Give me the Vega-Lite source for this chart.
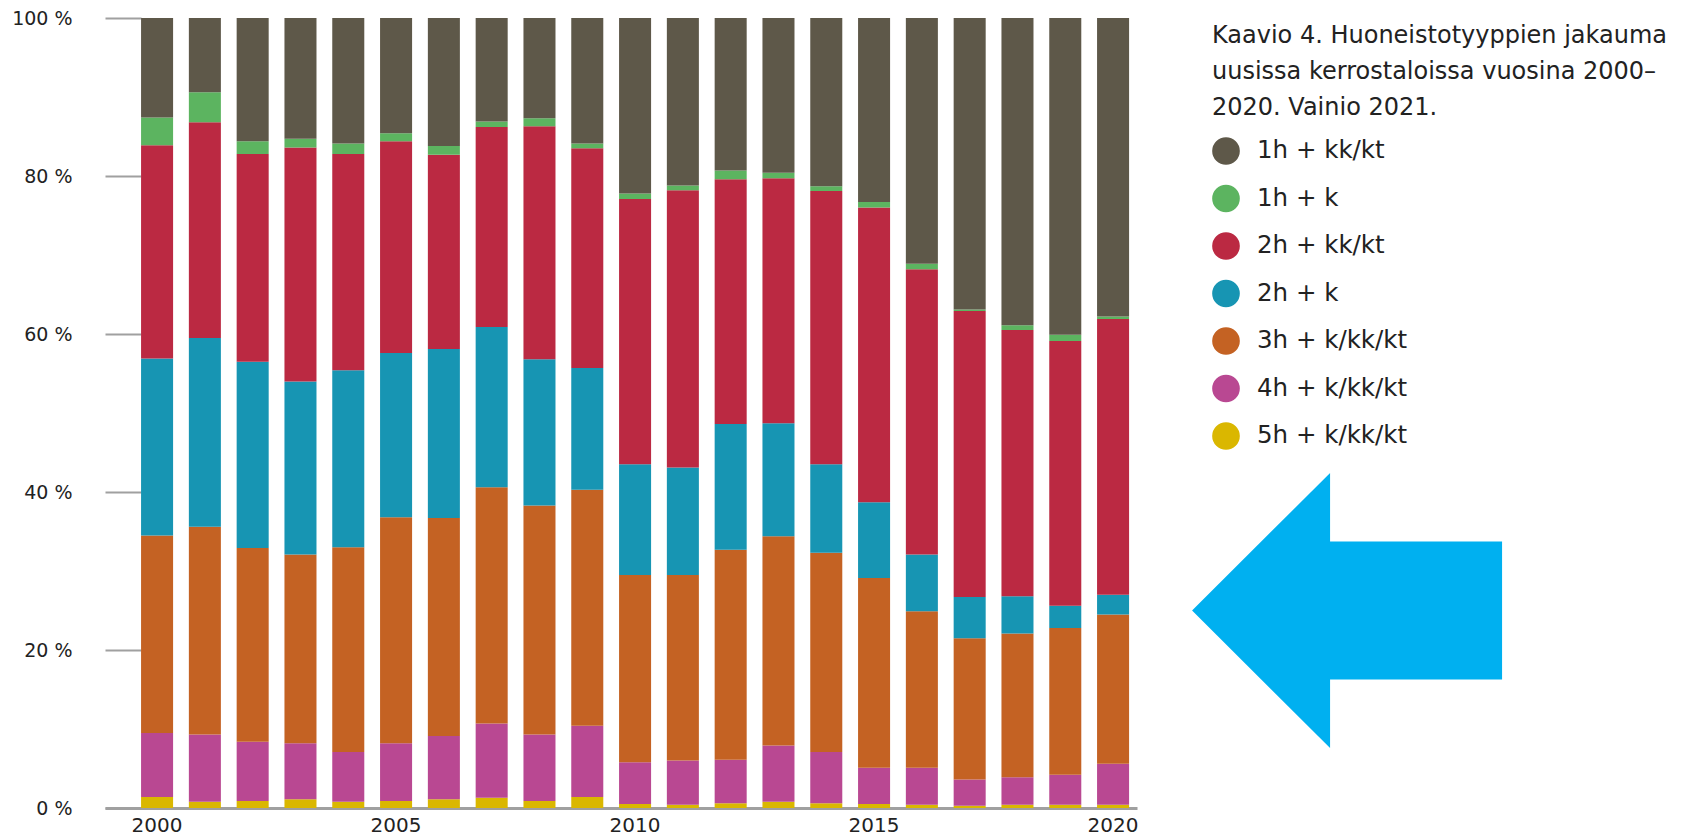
{
  "$schema": "https://vega.github.io/schema/vega-lite/v6.json",
  "autosize": {"type": "none"},
  "width": 1032,
  "height": 790,
  "padding": {"left": 105, "top": 18, "right": 561, "bottom": 28},
  "background": "white",
  "config": {"view": {"stroke": null}, "font": "DejaVu Sans"},
  "datasets": {
    "types": [
      {"type": "5h + k/kk/kt", "rank": 1},
      {"type": "4h + k/kk/kt", "rank": 2},
      {"type": "3h + k/kk/kt", "rank": 3},
      {"type": "2h + k", "rank": 4},
      {"type": "2h + kk/kt", "rank": 5},
      {"type": "1h + k", "rank": 6},
      {"type": "1h + kk/kt", "rank": 7}
    ],
    "arrow": [{"year": 2020, "share": 25}],
    "shares": [
      {"year": 2000, "type": "5h + k/kk/kt", "share": 1.4},
      {"year": 2000, "type": "4h + k/kk/kt", "share": 8.1},
      {"year": 2000, "type": "3h + k/kk/kt", "share": 25.0},
      {"year": 2000, "type": "2h + k", "share": 22.4},
      {"year": 2000, "type": "2h + kk/kt", "share": 27.0},
      {"year": 2000, "type": "1h + k", "share": 3.5},
      {"year": 2000, "type": "1h + kk/kt", "share": 12.6},
      {"year": 2001, "type": "5h + k/kk/kt", "share": 0.8},
      {"year": 2001, "type": "4h + k/kk/kt", "share": 8.5},
      {"year": 2001, "type": "3h + k/kk/kt", "share": 26.3},
      {"year": 2001, "type": "2h + k", "share": 23.9},
      {"year": 2001, "type": "2h + kk/kt", "share": 27.3},
      {"year": 2001, "type": "1h + k", "share": 3.8},
      {"year": 2001, "type": "1h + kk/kt", "share": 9.4},
      {"year": 2002, "type": "5h + k/kk/kt", "share": 0.9},
      {"year": 2002, "type": "4h + k/kk/kt", "share": 7.5},
      {"year": 2002, "type": "3h + k/kk/kt", "share": 24.5},
      {"year": 2002, "type": "2h + k", "share": 23.6},
      {"year": 2002, "type": "2h + kk/kt", "share": 26.3},
      {"year": 2002, "type": "1h + k", "share": 1.6},
      {"year": 2002, "type": "1h + kk/kt", "share": 15.6},
      {"year": 2003, "type": "5h + k/kk/kt", "share": 1.1},
      {"year": 2003, "type": "4h + k/kk/kt", "share": 7.1},
      {"year": 2003, "type": "3h + k/kk/kt", "share": 23.9},
      {"year": 2003, "type": "2h + k", "share": 21.9},
      {"year": 2003, "type": "2h + kk/kt", "share": 29.6},
      {"year": 2003, "type": "1h + k", "share": 1.1},
      {"year": 2003, "type": "1h + kk/kt", "share": 15.3},
      {"year": 2004, "type": "5h + k/kk/kt", "share": 0.8},
      {"year": 2004, "type": "4h + k/kk/kt", "share": 6.3},
      {"year": 2004, "type": "3h + k/kk/kt", "share": 25.9},
      {"year": 2004, "type": "2h + k", "share": 22.4},
      {"year": 2004, "type": "2h + kk/kt", "share": 27.4},
      {"year": 2004, "type": "1h + k", "share": 1.3},
      {"year": 2004, "type": "1h + kk/kt", "share": 15.9},
      {"year": 2005, "type": "5h + k/kk/kt", "share": 0.9},
      {"year": 2005, "type": "4h + k/kk/kt", "share": 7.3},
      {"year": 2005, "type": "3h + k/kk/kt", "share": 28.6},
      {"year": 2005, "type": "2h + k", "share": 20.8},
      {"year": 2005, "type": "2h + kk/kt", "share": 26.8},
      {"year": 2005, "type": "1h + k", "share": 1.0},
      {"year": 2005, "type": "1h + kk/kt", "share": 14.6},
      {"year": 2006, "type": "5h + k/kk/kt", "share": 1.1},
      {"year": 2006, "type": "4h + k/kk/kt", "share": 8.0},
      {"year": 2006, "type": "3h + k/kk/kt", "share": 27.6},
      {"year": 2006, "type": "2h + k", "share": 21.4},
      {"year": 2006, "type": "2h + kk/kt", "share": 24.6},
      {"year": 2006, "type": "1h + k", "share": 1.1},
      {"year": 2006, "type": "1h + kk/kt", "share": 16.2},
      {"year": 2007, "type": "5h + k/kk/kt", "share": 1.3},
      {"year": 2007, "type": "4h + k/kk/kt", "share": 9.4},
      {"year": 2007, "type": "3h + k/kk/kt", "share": 29.9},
      {"year": 2007, "type": "2h + k", "share": 20.3},
      {"year": 2007, "type": "2h + kk/kt", "share": 25.3},
      {"year": 2007, "type": "1h + k", "share": 0.7},
      {"year": 2007, "type": "1h + kk/kt", "share": 13.1},
      {"year": 2008, "type": "5h + k/kk/kt", "share": 0.9},
      {"year": 2008, "type": "4h + k/kk/kt", "share": 8.4},
      {"year": 2008, "type": "3h + k/kk/kt", "share": 29.0},
      {"year": 2008, "type": "2h + k", "share": 18.5},
      {"year": 2008, "type": "2h + kk/kt", "share": 29.5},
      {"year": 2008, "type": "1h + k", "share": 1.0},
      {"year": 2008, "type": "1h + kk/kt", "share": 12.7},
      {"year": 2009, "type": "5h + k/kk/kt", "share": 1.4},
      {"year": 2009, "type": "4h + k/kk/kt", "share": 9.0},
      {"year": 2009, "type": "3h + k/kk/kt", "share": 29.9},
      {"year": 2009, "type": "2h + k", "share": 15.4},
      {"year": 2009, "type": "2h + kk/kt", "share": 27.8},
      {"year": 2009, "type": "1h + k", "share": 0.6},
      {"year": 2009, "type": "1h + kk/kt", "share": 15.9},
      {"year": 2010, "type": "5h + k/kk/kt", "share": 0.5},
      {"year": 2010, "type": "4h + k/kk/kt", "share": 5.3},
      {"year": 2010, "type": "3h + k/kk/kt", "share": 23.7},
      {"year": 2010, "type": "2h + k", "share": 14.0},
      {"year": 2010, "type": "2h + kk/kt", "share": 33.6},
      {"year": 2010, "type": "1h + k", "share": 0.7},
      {"year": 2010, "type": "1h + kk/kt", "share": 22.2},
      {"year": 2011, "type": "5h + k/kk/kt", "share": 0.4},
      {"year": 2011, "type": "4h + k/kk/kt", "share": 5.6},
      {"year": 2011, "type": "3h + k/kk/kt", "share": 23.5},
      {"year": 2011, "type": "2h + k", "share": 13.6},
      {"year": 2011, "type": "2h + kk/kt", "share": 35.1},
      {"year": 2011, "type": "1h + k", "share": 0.6},
      {"year": 2011, "type": "1h + kk/kt", "share": 21.2},
      {"year": 2012, "type": "5h + k/kk/kt", "share": 0.6},
      {"year": 2012, "type": "4h + k/kk/kt", "share": 5.5},
      {"year": 2012, "type": "3h + k/kk/kt", "share": 26.6},
      {"year": 2012, "type": "2h + k", "share": 15.9},
      {"year": 2012, "type": "2h + kk/kt", "share": 31.0},
      {"year": 2012, "type": "1h + k", "share": 1.1},
      {"year": 2012, "type": "1h + kk/kt", "share": 19.3},
      {"year": 2013, "type": "5h + k/kk/kt", "share": 0.8},
      {"year": 2013, "type": "4h + k/kk/kt", "share": 7.1},
      {"year": 2013, "type": "3h + k/kk/kt", "share": 26.5},
      {"year": 2013, "type": "2h + k", "share": 14.3},
      {"year": 2013, "type": "2h + kk/kt", "share": 31.0},
      {"year": 2013, "type": "1h + k", "share": 0.7},
      {"year": 2013, "type": "1h + kk/kt", "share": 19.6},
      {"year": 2014, "type": "5h + k/kk/kt", "share": 0.6},
      {"year": 2014, "type": "4h + k/kk/kt", "share": 6.5},
      {"year": 2014, "type": "3h + k/kk/kt", "share": 25.2},
      {"year": 2014, "type": "2h + k", "share": 11.2},
      {"year": 2014, "type": "2h + kk/kt", "share": 34.6},
      {"year": 2014, "type": "1h + k", "share": 0.6},
      {"year": 2014, "type": "1h + kk/kt", "share": 21.3},
      {"year": 2015, "type": "5h + k/kk/kt", "share": 0.5},
      {"year": 2015, "type": "4h + k/kk/kt", "share": 4.6},
      {"year": 2015, "type": "3h + k/kk/kt", "share": 24.0},
      {"year": 2015, "type": "2h + k", "share": 9.6},
      {"year": 2015, "type": "2h + kk/kt", "share": 37.3},
      {"year": 2015, "type": "1h + k", "share": 0.7},
      {"year": 2015, "type": "1h + kk/kt", "share": 23.3},
      {"year": 2016, "type": "5h + k/kk/kt", "share": 0.4},
      {"year": 2016, "type": "4h + k/kk/kt", "share": 4.7},
      {"year": 2016, "type": "3h + k/kk/kt", "share": 19.8},
      {"year": 2016, "type": "2h + k", "share": 7.2},
      {"year": 2016, "type": "2h + kk/kt", "share": 36.1},
      {"year": 2016, "type": "1h + k", "share": 0.7},
      {"year": 2016, "type": "1h + kk/kt", "share": 31.1},
      {"year": 2017, "type": "5h + k/kk/kt", "share": 0.3},
      {"year": 2017, "type": "4h + k/kk/kt", "share": 3.3},
      {"year": 2017, "type": "3h + k/kk/kt", "share": 17.9},
      {"year": 2017, "type": "2h + k", "share": 5.2},
      {"year": 2017, "type": "2h + kk/kt", "share": 36.2},
      {"year": 2017, "type": "1h + k", "share": 0.2},
      {"year": 2017, "type": "1h + kk/kt", "share": 36.9},
      {"year": 2018, "type": "5h + k/kk/kt", "share": 0.4},
      {"year": 2018, "type": "4h + k/kk/kt", "share": 3.5},
      {"year": 2018, "type": "3h + k/kk/kt", "share": 18.2},
      {"year": 2018, "type": "2h + k", "share": 4.7},
      {"year": 2018, "type": "2h + kk/kt", "share": 33.7},
      {"year": 2018, "type": "1h + k", "share": 0.6},
      {"year": 2018, "type": "1h + kk/kt", "share": 38.9},
      {"year": 2019, "type": "5h + k/kk/kt", "share": 0.4},
      {"year": 2019, "type": "4h + k/kk/kt", "share": 3.8},
      {"year": 2019, "type": "3h + k/kk/kt", "share": 18.6},
      {"year": 2019, "type": "2h + k", "share": 2.8},
      {"year": 2019, "type": "2h + kk/kt", "share": 33.5},
      {"year": 2019, "type": "1h + k", "share": 0.8},
      {"year": 2019, "type": "1h + kk/kt", "share": 40.1},
      {"year": 2020, "type": "5h + k/kk/kt", "share": 0.4},
      {"year": 2020, "type": "4h + k/kk/kt", "share": 5.2},
      {"year": 2020, "type": "3h + k/kk/kt", "share": 18.9},
      {"year": 2020, "type": "2h + k", "share": 2.5},
      {"year": 2020, "type": "2h + kk/kt", "share": 34.9},
      {"year": 2020, "type": "1h + k", "share": 0.3},
      {"year": 2020, "type": "1h + kk/kt", "share": 37.8}
    ]
  },
  "layer": [
    {
      "data": {"name": "shares"},
      "transform": [
        {"lookup": "type", "from": {"data": {"name": "types"}, "key": "type", "fields": ["rank"]}}
      ],
      "mark": {"type": "bar"},
      "encoding": {
        "x": {
          "field": "year",
          "type": "ordinal",
          "scale": {"paddingInner": 0.33, "paddingOuter": 0.46, "align": 0.82},
          "axis": {
            "values": [2000, 2005, 2010, 2015, 2020],
            "labelAngle": 0,
            "title": null,
            "ticks": false,
            "domainColor": "#A0A0A0",
            "domainWidth": 3,
            "labelPadding": 7,
            "labelFontSize": 20,
            "labelColor": "#222222",
            "labelFont": "DejaVu Sans"
          }
        },
        "y": {
          "field": "share",
          "type": "quantitative",
          "stack": "zero",
          "scale": {"domain": [0, 100]},
          "axis": {
            "values": [0, 20, 40, 60, 80, 100],
            "labelExpr": "datum.label + ' %'",
            "title": null,
            "domain": false,
            "grid": false,
            "tickSize": -36,
            "tickColor": "#A0A0A0",
            "tickWidth": 2,
            "labelPadding": 69,
            "labelFontSize": 19,
            "labelColor": "#222222",
            "labelFont": "DejaVu Sans"
          }
        },
        "color": {
          "field": "type",
          "type": "nominal",
          "scale": {
            "domain": ["1h + kk/kt", "1h + k", "2h + kk/kt", "2h + k", "3h + k/kk/kt", "4h + k/kk/kt", "5h + k/kk/kt"],
            "range": ["#5E5849", "#5CB460", "#BB2942", "#1795B3", "#C46223", "#B94892", "#DAB700"]
          },
          "legend": {
            "orient": "right",
            "offset": 75,
            "padding": 0,
            "title": ["Kaavio 4. Huoneistotyyppien jakauma", "uusissa kerrostaloissa vuosina 2000–", "2020. Vainio 2021."],
            "titleFont": "DejaVu Sans",
            "titleFontSize": 24,
            "titleFontWeight": "normal",
            "titleColor": "#222222",
            "titleLineHeight": 36,
            "titleBaseline": "line-top",
            "titleLimit": 700,
            "titlePadding": 23,
            "symbolType": "circle",
            "symbolSize": 765,
            "symbolStrokeWidth": 0,
            "symbolOpacity": 1,
            "labelFont": "DejaVu Sans",
            "labelFontSize": 24.5,
            "labelColor": "#222222",
            "labelOffset": 17,
            "labelLimit": 400,
            "rowPadding": 19.5
          }
        },
        "order": {"field": "rank", "type": "quantitative"}
      }
    },
    {
      "data": {"name": "arrow"},
      "mark": {
        "type": "point",
        "shape": "M 7.9 0 L 21.7 -13.75 L 21.7 -6.9 L 38.9 -6.9 L 38.9 6.9 L 21.7 6.9 L 21.7 13.75 Z",
        "size": 400,
        "filled": true,
        "color": "#00B0F0",
        "opacity": 1,
        "strokeWidth": 0
      },
      "encoding": {
        "x": {"field": "year", "type": "ordinal"},
        "y": {"field": "share", "type": "quantitative"}
      }
    }
  ]
}
